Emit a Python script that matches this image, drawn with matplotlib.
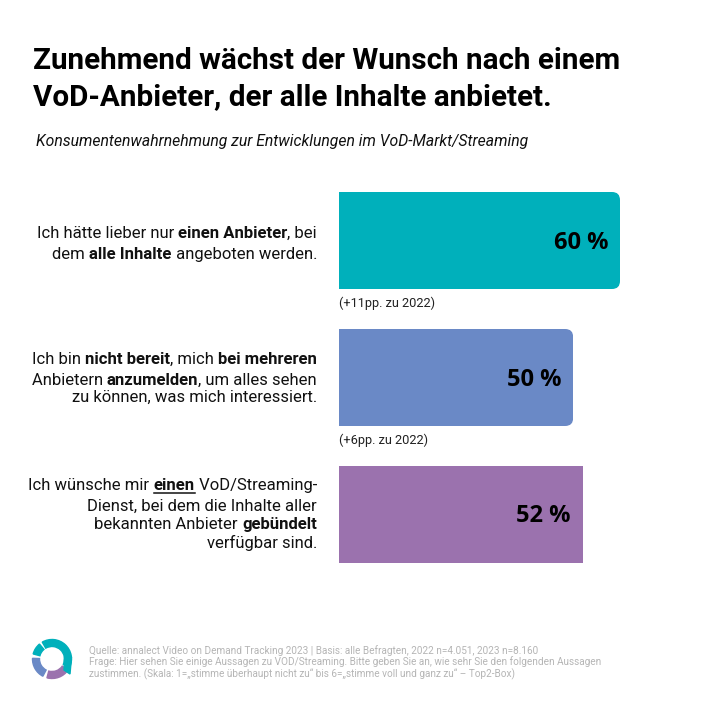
import matplotlib
matplotlib.use("Agg")
import matplotlib.pyplot as plt
from matplotlib.lines import Line2D
from matplotlib.patches import FancyBboxPatch, Wedge, Polygon

plt.rcParams['font.family'] = ['Roboto', 'DejaVu Sans']

title_lines = ["Zunehmend wächst der Wunsch nach einem",
               "VoD-Anbieter, der alle Inhalte anbietet."]
subtitle = "Konsumentenwahrnehmung zur Entwicklungen im VoD-Markt/Streaming"

values = [60, 50, 52]
colors = ['#00B0BB', '#6A89C6', '#9B72AE']
rounded = [True, True, False]
changes = ["(+11pp. zu 2022)", "(+6pp. zu 2022)", ""]

# (text, style) runs for each line, style: n normal, b bold, u bold underlined
labels = [
    [[("Ich hätte lieber nur ", 'n'), ("einen Anbieter", 'b'), (", bei", 'n')],
     [("dem ", 'n'), ("alle Inhalte", 'b'), (" angeboten werden.", 'n')]],
    [[("Ich bin ", 'n'), ("nicht bereit", 'b'), (", mich ", 'n'), ("bei mehreren", 'b')],
     [("Anbietern ", 'n'), ("anzumelden", 'b'), (", um alles sehen", 'n')],
     [("zu können, was mich interessiert.", 'n')]],
    [[("Ich wünsche mir ", 'n'), ("einen", 'u'), (" VoD/Streaming-", 'n')],
     [("Dienst, bei dem die Inhalte aller", 'n')],
     [("bekannten Anbieter ", 'n'), ("gebündelt", 'b')],
     [("verfügbar sind.", 'n')]],
]

source_lines = ["Quelle: annalect Video on Demand Tracking 2023 | Basis: alle Befragten, 2022 n=4.051, 2023 n=8.160",
                "Frage: Hier sehen Sie einige Aussagen zu VOD/Streaming. Bitte geben Sie an, wie sehr Sie den folgenden Aussagen",
                "zustimmen. (Skala: 1=„stimme überhaupt nicht zu“ bis 6=„stimme voll und ganz zu“ – Top2-Box)"]

W = H = 710
fig = plt.figure(figsize=(7.1, 7.1), dpi=100, facecolor='white')


def px(x, y):
    return x / W, 1 - y / H


def put(x, y, s, **kw):
    fx, fy = px(x, y)
    return fig.text(fx, fy, s, **kw)


def right_runs(x_right, y, runs, size):
    # lays one line out from the right edge, run by run
    r = fig.canvas.get_renderer()
    x = x_right
    for s, style in reversed(runs):
        weight = 'normal' if style == 'n' else 'bold'
        # trailing spaces are not measured, so measure with a guard char
        probe = put(0, 0, s + "|", fontsize=size, fontweight=weight)
        bar_w = put(0, 0, "|", fontsize=size, fontweight=weight)
        w = probe.get_window_extent(r).width - bar_w.get_window_extent(r).width
        probe.remove()
        bar_w.remove()
        x -= w
        put(x, y, s, fontsize=size, fontweight=weight, color='#111111',
            ha='left', va='baseline')
        if style == 'u':
            fx0, fy0 = px(x, y + 3)
            fx1, _ = px(x + w, y + 3)
            fig.add_artist(Line2D([fx0, fx1], [fy0, fy0], color='#111111', lw=1.1))


# bars
ax = fig.add_axes([339 / W, 1 - 583 / H, 281 / W, 411 / H])
ax.set_xlim(0, 60)
ax.set_ylim(2.5, -0.5)
ax.axis('off')
bars = ax.barh(range(len(values)), values, height=0.708, color=colors)
for bar, is_round in zip(bars, rounded):
    if is_round:
        x0, y0, w, h = bar.get_x(), bar.get_y(), bar.get_width(), bar.get_height()
        # clip shape runs past the left edge so only right corners are rounded
        clip = FancyBboxPatch((x0 - 5, y0), w + 5, h,
                              boxstyle="round,pad=0,rounding_size=1.7",
                              mutation_aspect=0.0345, transform=ax.transData,
                              fc='none', ec='none')
        ax.add_patch(clip)
        bar.set_clip_path(clip)

for i, v in enumerate(values):
    ax.annotate(f"{v} %", (v, i), xytext=(-12, -2), textcoords='offset pixels',
                ha='right', va='center', fontsize=17, fontweight='bold',
                family='Open Sans', color='black')

for i, note in enumerate(changes):
    if note:
        ax.annotate(note, (0, i + 0.354), xytext=(0, -14), textcoords='offset pixels',
                    ha='left', va='center', fontsize=9.2, color='#222222')

# title and subtitle
put(33, 69, title_lines[0], fontsize=21.3, fontweight='bold', color='black')
put(33, 105.5, title_lines[1], fontsize=21.3, fontweight='bold', color='black')
put(36, 146, subtitle, fontsize=11.33, fontstyle='italic', color='#111111')

# row labels
baselines = [[238, 259], [364, 385, 402], [490, 511, 529, 548]]
for lines, ys in zip(labels, baselines):
    for runs, y in zip(lines, ys):
        right_runs(317, y, runs, 11.95)

# source
for y, line in zip([654, 665, 677], source_lines):
    put(89, y, line, fontsize=7.2, color='#B5B5B5')

# logo
lax = fig.add_axes([20 / W, 1 - 690 / H, 60 / W, 60 / H])
lax.set_xlim(20, 80)
lax.set_ylim(690, 630)
lax.set_aspect('equal')
lax.axis('off')
c = (52, 659)
lax.add_patch(Wedge(c, 19.5, 240, 385, width=7, color='#00B0BB'))
lax.add_patch(Wedge(c, 19.5, 195, 230, width=7, color='#00B0BB'))
lax.add_patch(Wedge(c, 19.5, 118, 182, width=7, color='#6A89C6'))
lax.add_patch(Wedge(c, 19.5, 35, 105, width=7, color='#9B72AE'))
lax.add_patch(Polygon([(64.5, 657), (71.5, 657), (70, 674), (64, 670)], color='#00B0BB'))

fig.savefig('out.png', dpi=100)
